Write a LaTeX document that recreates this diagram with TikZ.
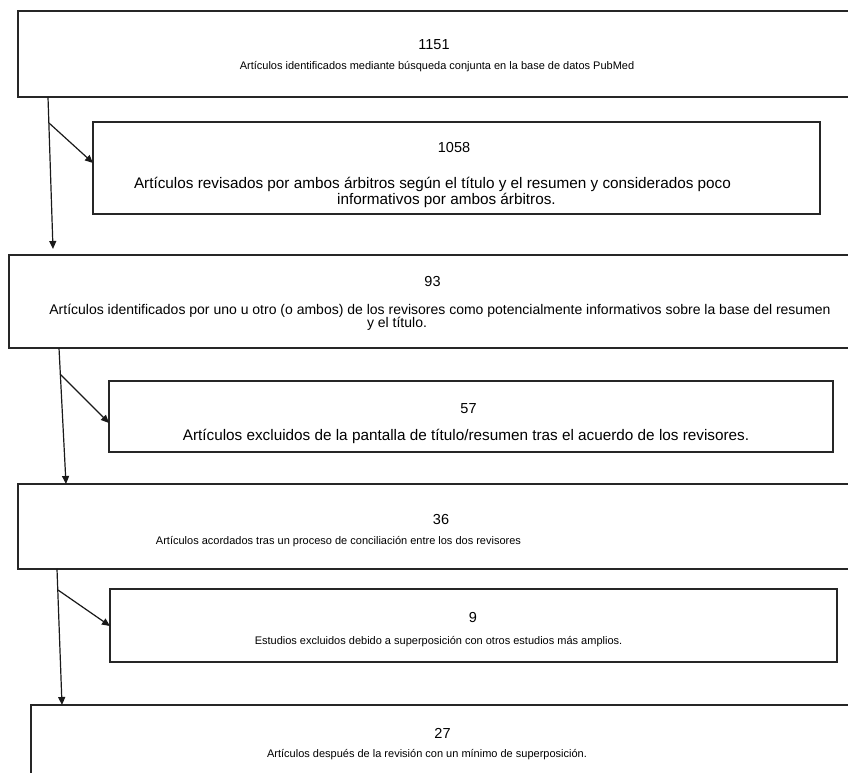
\documentclass[tikz,border=0pt]{standalone}
\usepackage{fontspec}
\setmainfont{Liberation Sans}
\usetikzlibrary{arrows.meta,calc}
\begin{document}
\begin{tikzpicture}[x=1pt,y=-1pt,
  boxst/.style={draw=black!85, line width=1.3pt, rectangle, inner sep=0pt, outer sep=0pt, anchor=north west},
  numtxt/.style={anchor=base, inner sep=0pt, font=\fontsize{14.5}{17}\selectfont},
  bigtxt/.style={anchor=base, inner sep=0pt, font=\fontsize{15.3}{18}\selectfont},
  midtxt/.style={anchor=base, inner sep=0pt, font=\fontsize{14}{17}\selectfont},
  smalltxt/.style={anchor=base, inner sep=0pt, font=\fontsize{11}{13}\selectfont},
  flow/.style={draw=black!90, line width=1.2pt, -{Triangle[length=8pt,width=7pt]}}]
\useasboundingbox (0,0) rectangle (848,773);
\clip (0,0) rectangle (848,773);
\fill[white] (0,0) rectangle (848,773);

% boxes
\node[boxst, minimum width=850pt, minimum height=86pt] (b1) at (18,11) {};
\node[boxst, minimum width=727pt, minimum height=92pt] (b2) at (93,122) {};
\node[boxst, minimum width=860pt, minimum height=93pt] (b3) at (9,255) {};
\node[boxst, minimum width=724pt, minimum height=71pt] (b4) at (109,381) {};
\node[boxst, minimum width=850pt, minimum height=85pt] (b5) at (18,484) {};
\node[boxst, minimum width=727pt, minimum height=73pt] (b6) at (110,589) {};
\node[boxst, minimum width=840pt, minimum height=90pt] (b7) at (31,705) {};

% texts
\node[numtxt] (t1a) at (434,50) {1151};
\node[smalltxt] (t1b) at (437,70) {Artículos identificados mediante búsqueda conjunta en la base de datos PubMed};

\node[numtxt] (t2a) at (454,153) {1058};
\node[bigtxt] (t2b) at (432.5,188) {Artículos revisados por ambos árbitros según el título y el resumen y considerados poco};
\node[bigtxt, anchor=base west] (t2c) at (337,204.5) {informativos por ambos árbitros.};

\node[numtxt] (t3a) at (432.5,286.7) {93};
\node[midtxt] (t3b) at (440,314) {Artículos identificados por uno u otro (o ambos) de los revisores como potencialmente informativos sobre la base del resumen};
\node[midtxt] (t3c) at (397,327.5) {y el título.};

\node[numtxt] (t4a) at (468.5,413.3) {57};
\node[bigtxt] (t4b) at (466,440) {Artículos excluidos de la pantalla de título/resumen tras el acuerdo de los revisores.};

\node[numtxt] (t5a) at (441,524.3) {36};
\node[smalltxt] (t5b) at (338.5,544) {Artículos acordados tras un proceso de conciliación entre los dos revisores};

\node[numtxt] (t6a) at (473,622) {9};
\node[smalltxt] (t6b) at (438.5,644.5) {Estudios excluidos debido a superposición con otros estudios más amplios.};

\node[numtxt] (t7a) at (442.5,738.7) {27};
\node[smalltxt] (t7b) at (427,757) {Artículos después de la revisión con un mínimo de superposición.};

% connectors
\coordinate (s1) at ($(b1.south west)+(30,0)$);
\coordinate (e1) at ($(b3.north west)+(44,-6)$);
\coordinate (j1) at (49,123);
\draw[flow] (s1) -- (e1);
\draw[flow] (j1) -- (b2.west |- 0,163);

\coordinate (s2) at ($(b3.south west)+(50,0)$);
\coordinate (e2) at ($(b5.north west)+(48,0)$);
\coordinate (j2) at (60,374);
\draw[flow] (s2) -- (e2);
\draw[flow] (j2) -- (b4.west |- 0,423);

\coordinate (s3) at ($(b5.south west)+(39,0)$);
\coordinate (e3) at ($(b7.north west)+(31,0)$);
\coordinate (j3) at (58,590);
\draw[flow] (s3) -- (e3);
\draw[flow] (j3) -- (b6.west |- 0,626);
\end{tikzpicture}
\end{document}
